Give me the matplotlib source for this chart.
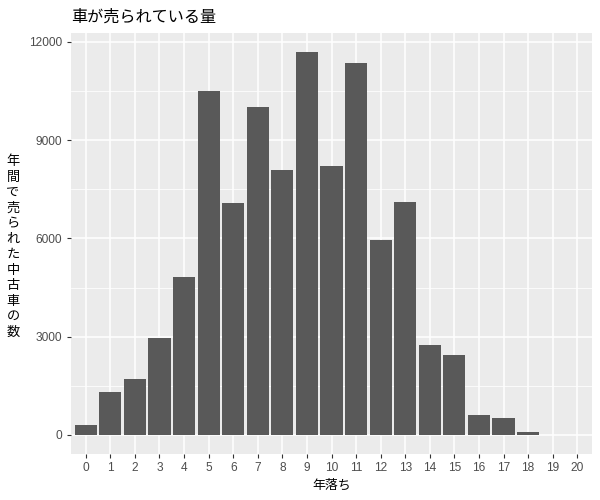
import matplotlib
matplotlib.use("Agg")
import matplotlib.pyplot as plt
import numpy as np

plt.rcParams['font.family'] = ['Noto Sans CJK JP', 'DejaVu Sans']

years = list(range(0, 21))
counts = [300, 1310, 1710, 2960, 4820, 10490, 7070, 10000, 8080, 11680,
          8200, 11370, 5950, 7100, 2750, 2440, 610, 520, 95, 0, 0]
title = "車が売られている量"
xlabel = "年落ち"
ylabel = "年間で売られた中古車 の数"
yticks = [0, 3000, 6000, 9000, 12000]

fig = plt.figure(figsize=(6, 5), dpi=100)
ax = fig.add_axes([71/600, 1-454/500, (592-71)/600, (454-33.3)/500])
ax.set_facecolor('#EBEBEB')
for s in ax.spines.values():
    s.set_visible(False)

ymax = max(counts)
ax.set_xlim(-0.6, 20.6)
ax.set_ylim(-0.05*ymax, 1.05*ymax)

# grid
for yv in np.arange(1500, 13000, 3000):
    ax.axhline(yv, color='white', lw=0.55, zorder=0)
for yv in yticks:
    ax.axhline(yv, color='white', lw=1.1, zorder=0)
for xv in years:
    ax.axvline(xv, color='white', lw=1.1, zorder=0)

ax.bar(years, counts, width=0.9, color='#595959', zorder=2)

ax.set_xticks(years)
ax.set_xticklabels([str(y) for y in years], family='Liberation Sans')
ax.set_yticks(yticks)
ax.set_yticklabels([str(y) for y in yticks], family='Liberation Sans')
ax.tick_params(axis='both', colors='#333333', length=3, width=0.8,
               labelcolor='#4D4D4D', labelsize=8.6)
ax.tick_params(axis='x', pad=3)

ax.set_xlabel(xlabel, fontsize=9.3, color='black', labelpad=3)
fig.text(13/600, 1-247/500, "\n".join(list(ylabel.replace(" ", ""))),
         ha='center', va='center', fontsize=9.5, linespacing=1.25)
fig.text(71/600, 1-17/500, title, ha='left', va='center', fontsize=11.6)

fig.savefig("out.png", dpi=100)
